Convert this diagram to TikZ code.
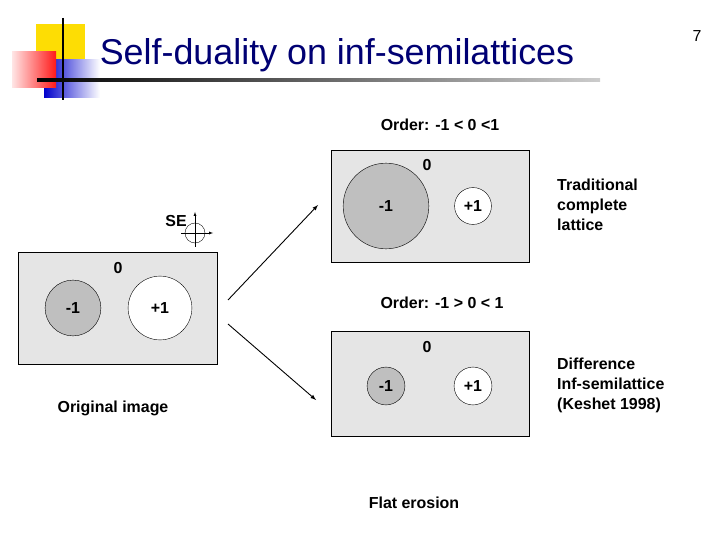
\documentclass[tikz,border=0pt]{standalone}
\usepackage{fontspec}
\setmainfont{Liberation Sans}
\begin{document}
\begin{tikzpicture}[x=1bp,y=-1bp,
  panel/.style={draw=black,fill=gray!20,line width=0.6pt},
  disk/.style={draw=black,circle,line width=0.4pt,inner sep=0pt,font=\bfseries\fontsize{16}{19}\selectfont},
  lbl/.style={font=\bfseries\fontsize{16}{19}\selectfont,inner sep=0pt},
  side/.style={font=\bfseries\fontsize{16}{20}\selectfont,align=left,anchor=west,inner sep=0pt},
  arr/.style={-latex,line width=0.9pt}]
\useasboundingbox (0,0) rectangle (720,540);
% logo
\fill[yellow!80!orange] (36,24) rectangle (85,70);
\shade[left color=blue!80!black,right color=white] (44,60) rectangle (100,98);
\shade[left color=red!10,right color=red!90] (12,52) rectangle (56,88);
\draw[line width=1.5pt] (63,18) -- (63,100);
\shade[left color=black,right color=gray!40] (37,79) rectangle (600,81.5);
\node[inner sep=0pt,font=\fontsize{36}{40}\selectfont,text=blue!45!black] (title) at (337,55) {Self-duality on inf-semilattices};
\node[inner sep=0pt,font=\fontsize{16}{19}\selectfont] (pg) at (697,36) {7};
% left panel
\draw[panel] (18,252) rectangle (217,364);
\node[disk,fill=gray!50,minimum size=56] (lm) at (73,308) {-1};
\node[disk,fill=white,minimum size=64] (lp) at (160,308) {+1};
\node[lbl] (l0) at (118,268) {0};
\node[lbl] (orig) at (113,408) {Original image};
% SE
\node[circle,draw,minimum size=20,inner sep=0] (se) at (195,233) {};
\draw (181,233) -- (se.center);
\draw[-latex] (se.center) -- (213,233);
\draw (195,247) -- (se.center);
\draw[-latex] (se.center) -- (195,212);
\node[lbl] (setxt) at (176,221) {SE};
% top panel
\node[lbl] (o1) at (440,125) {Order: -1 < 0 <1};
\draw[panel] (331,150) rectangle (529,262);
\node[disk,fill=gray!50,minimum size=86] (tm) at (386,206) {-1};
\node[disk,fill=white,minimum size=37] (tp) at (473,206) {+1};
\node[lbl] (t0) at (427,165) {0};
\node[side] (trad) at (557,205) {Traditional\\complete\\lattice};
% bottom panel
\node[lbl] (o2) at (442,303) {Order: -1 > 0 < 1};
\draw[panel] (331,331) rectangle (529,436);
\node[disk,fill=gray!50,minimum size=38] (bm) at (386,386) {-1};
\node[disk,fill=white,minimum size=38] (bp) at (473,386) {+1};
\node[lbl] (b0) at (427,347) {0};
\node[side] (diff) at (557,385) {Difference\\Inf-semilattice\\(Keshet 1998)};
\node[lbl] (flat) at (414,503) {Flat erosion};
% arrows
\coordinate (a0) at (228,300);
\coordinate (a1) at (318,205);
\coordinate (b0c) at (228,324);
\coordinate (b1) at (316,400);
\draw[arr] (a0) -- (a1);
\draw[arr] (b0c) -- (b1);
\end{tikzpicture}
\end{document}
